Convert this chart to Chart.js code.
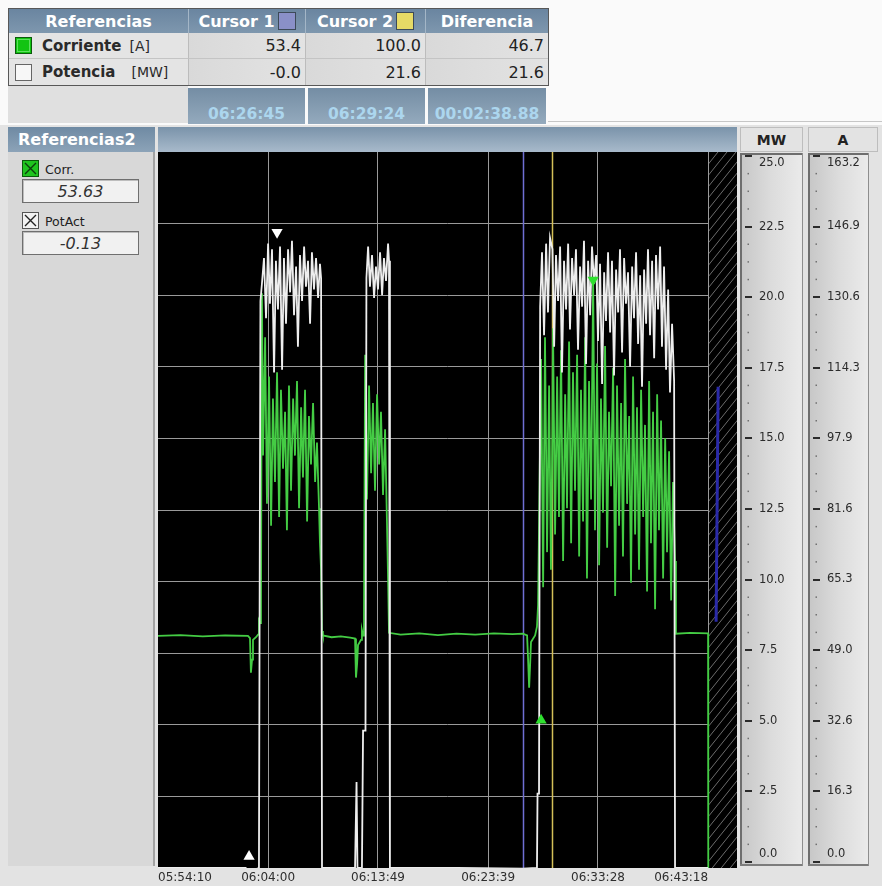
<!DOCTYPE html>
<html lang="es">
<head>
<meta charset="utf-8">
<title>Tendencia Corriente / Potencia</title>
<script src="https://cdn.jsdelivr.net/npm/chart.js@4.4.1/dist/chart.umd.min.js"></script>
<style>
  html, body { margin: 0; padding: 0; }
  body { width: 882px; height: 886px; position: relative; overflow: hidden;
         background: #e3e3e3; font-family: "DejaVu Sans", sans-serif; }
  .abs { position: absolute; box-sizing: border-box; }
  .hd { background: linear-gradient(#6a85a0, #7e97ae); color: #fff; font-weight: bold; font-size: 16px;
        display: flex; align-items: center; justify-content: center; border-left: 1px solid #a4b6c7; white-space: nowrap; }
  .lab { background: #e4e4e4; display: flex; align-items: center; color: #2a2a2a; white-space: nowrap; }
  .cel { background: linear-gradient(to right, #d9d9d9, #e3e3e3); font-size: 16px; color: #222; display: flex; align-items: center;
         justify-content: flex-end; padding-right: 4px; border-left: 1px solid #bcbcbc; }
  .tm { background: linear-gradient(#748da4, #94aabd); color: #acd6ee; font-weight: bold; font-size: 15.5px;
        display: flex; align-items: flex-end; justify-content: center; padding-bottom: 1px; }
  .sw { display: inline-block; width: 18px; height: 18px; border: 1px solid #3d4a58; margin-left: 3px; box-sizing: border-box; }
  .chk { width: 17px; height: 17px; }
  .caja { background: #f1f1f1; border: 1px solid #6f6f6f; box-shadow: inset 1px 1px 0 #bdbdbd;
          font-style: italic; font-size: 16px; color: #333; display: flex; align-items: center; justify-content: center; }
</style>
</head>
<body>
<!-- franja superior clara -->
<div class="abs" style="left:0;top:0;width:882px;height:125px;background:#fafafa"></div>
<div class="abs" style="left:548px;top:121px;width:334px;height:1px;background:#c6c6c6"></div>

<!-- tabla de referencias de cursores -->
<div class="abs" style="left:8px;top:8px;width:541px;height:78px;border:1px solid #585858;background:#e2e2e2"></div>
<div class="abs hd" style="left:9px;top:9px;width:179px;height:24px;border-left:none">Referencias</div>
<div class="abs hd" style="left:188px;top:9px;width:117px;height:24px">Cursor 1<span class="sw" style="background:#8a90c8"></span></div>
<div class="abs hd" style="left:305px;top:9px;width:120px;height:24px">Cursor 2<span class="sw" style="background:#e6da66"></span></div>
<div class="abs hd" style="left:425px;top:9px;width:123px;height:24px">Diferencia</div>

<div class="abs lab" style="left:9px;top:33px;width:179px;height:26px;border-bottom:1px solid #c4c4c4">
  <svg class="chk" style="margin-left:6px" viewBox="0 0 17 17"><rect x="0.5" y="0.5" width="16" height="16" fill="#12c412" stroke="#0b5a0b"/><rect x="2.5" y="2.5" width="12" height="12" fill="none" stroke="#5fe05f"/></svg>
  <b style="font-size:15px;margin-left:10px">Corriente</b><span style="font-size:14px;margin-left:8px">[A]</span>
</div>
<div class="abs cel" style="left:188px;top:33px;width:117px;height:26px;border-bottom:1px solid #c4c4c4">53.4</div>
<div class="abs cel" style="left:305px;top:33px;width:120px;height:26px;border-bottom:1px solid #c4c4c4">100.0</div>
<div class="abs cel" style="left:425px;top:33px;width:123px;height:26px;border-bottom:1px solid #c4c4c4">46.7</div>

<div class="abs lab" style="left:9px;top:59px;width:179px;height:26px">
  <svg class="chk" style="margin-left:6px" viewBox="0 0 17 17"><rect x="0.5" y="0.5" width="16" height="16" fill="#f7f7f7" stroke="#666"/></svg>
  <b style="font-size:15px;margin-left:10px">Potencia</b><span style="font-size:14px;margin-left:16px">[MW]</span>
</div>
<div class="abs cel" style="left:188px;top:59px;width:117px;height:26px">-0.0</div>
<div class="abs cel" style="left:305px;top:59px;width:120px;height:26px">21.6</div>
<div class="abs cel" style="left:425px;top:59px;width:123px;height:26px">21.6</div>

<div class="abs" style="left:8px;top:86px;width:180px;height:37px;background:#e0e0e0"></div>
<div class="abs tm" style="left:188px;top:88px;width:117px;height:36px">06:26:45</div>
<div class="abs tm" style="left:308px;top:88px;width:117px;height:36px">06:29:24</div>
<div class="abs tm" style="left:428px;top:88px;width:118px;height:36px">00:02:38.88</div>

<!-- segunda barra de cabecera -->
<div class="abs hd" style="left:8px;top:127px;width:147px;height:25px;justify-content:flex-start;padding-left:10px;border-left:none;background:linear-gradient(#6f8aa3,#8ca3b8)">Referencias2</div>
<div class="abs" style="left:158px;top:127px;width:579px;height:25px;background:linear-gradient(#7a93aa,#a8bacb)"></div>
<div class="abs" style="left:740px;top:127px;width:63px;height:25px;background:#e3e3e3;border:1px solid #bdbdbd;font-weight:bold;font-size:14px;color:#222;display:flex;align-items:center;justify-content:center">MW</div>
<div class="abs" style="left:808px;top:127px;width:70px;height:25px;background:#e3e3e3;border:1px solid #bdbdbd;font-weight:bold;font-size:14px;color:#222;display:flex;align-items:center;justify-content:center">A</div>

<!-- panel de variables -->
<div class="abs" style="left:8px;top:152px;width:147px;height:714px;background:#d8d8d8;border-right:2px solid #a2a2a2"></div>
<svg class="abs chk" style="left:22px;top:160px" viewBox="0 0 17 17"><rect x="0.5" y="0.5" width="16" height="16" fill="#1fc41f" stroke="#0b5a0b"/><path d="M3 3 L14 14 M14 3 L3 14" stroke="#0d3d0d" stroke-width="1.4"/></svg>
<div class="abs" style="left:45px;top:162px;font-size:12.5px;color:#222">Corr.</div>
<div class="abs caja" style="left:22px;top:179px;width:117px;height:24px">53.63</div>
<svg class="abs chk" style="left:22px;top:212px" viewBox="0 0 17 17"><rect x="0.5" y="0.5" width="16" height="16" fill="#f2f2f2" stroke="#555"/><path d="M3 3 L14 14 M14 3 L3 14" stroke="#222" stroke-width="1.4"/></svg>
<div class="abs" style="left:45px;top:214px;font-size:12.5px;color:#222">PotAct</div>
<div class="abs caja" style="left:22px;top:231px;width:117px;height:24px">-0.13</div>

<canvas id="grafico" class="abs" width="727" height="734" style="left:155px;top:152px"></canvas>

<script>
// Ventana de tiempo visible y marcas del eje horizontal
const inicio = '05:54:10';
const fin = '06:45:53';
const finDatos = '06:43:18';            // a partir de aquí, zona rayada sin registro
const etiquetasTiempo = ['05:54:10', '06:04:00', '06:13:49', '06:23:39', '06:33:28', '06:43:18'];
const cursores = ['06:26:45', '06:29:24'];
const coloresCursor = ['#6f6fd4', '#d4c058'];

// Escalas verticales
const etiquetasMW = ['0.0', '2.5', '5.0', '7.5', '10.0', '12.5', '15.0', '17.5', '20.0', '22.5', '25.0'];
const etiquetasA = ['0.0', '16.3', '32.6', '49.0', '65.3', '81.6', '97.9', '114.3', '130.6', '146.9', '163.2'];

// Potencia activa [MW] (segundos desde el inicio de la ventana)
const potSeg = [0, 470, 488, 541, 549,
  557, 568, 579, 590, 600, 611, 622, 632, 643, 654, 665, 675, 686, 697, 708, 718, 729, 740, 750, 761,
  772, 783, 793, 804, 815, 825, 836, 847, 858, 868, 874, 879,
  1056, 1061, 1064, 1069, 1093, 1099, 1112, 1117, 1126, 1136, 1147, 1158, 1168, 1179, 1190, 1201, 1211, 1222, 1233, 1238, 1243,
  1600, 1955, 2031, 2034, 2042,
  2048, 2058, 2069, 2080, 2090, 2101, 2114, 2123, 2133, 2144, 2155, 2165, 2176, 2187, 2198, 2208, 2219, 2230, 2240, 2251,
  2262, 2273, 2283, 2294, 2305, 2316, 2326, 2337, 2348, 2358, 2369, 2380, 2391, 2401, 2412, 2423, 2433, 2444, 2455, 2466,
  2476, 2487, 2498, 2508, 2519, 2530, 2541, 2551, 2562, 2573, 2584, 2594, 2605, 2616, 2626, 2637, 2648, 2659, 2669, 2680,
  2691, 2701, 2712, 2723, 2734, 2744, 2755, 2766, 2771, 2948];
const potMW = [0.0, 0.0, -0.13, 0.0, 19.8,
  20.4, 21.3, 19.2, 21.8, 19.7, 21.6, 17.3, 21.2, 19.5, 21.7, 17.4, 21.3, 19.0, 21.6, 20.1, 21.9, 19.3, 21.0, 18.2, 21.4,
  19.8, 21.7, 20.3, 21.2, 19.0, 21.5, 20.2, 21.3, 19.9, 21.1, 20.6, 0.0,
  0.0, 0.0, 3.0, 0.0, 0.0, 4.8, 4.8, 20.6, 21.7, 20.3, 21.4, 19.9, 21.0, 20.2, 21.5, 20.0, 21.3, 20.5, 21.8, 21.2, 0.0,
  0.0, -0.02, 0.0, 2.6, 2.6,
  19.6, 21.5, 18.6, 21.8, 19.4, 22.0, 21.6, 18.2, 21.4, 19.8, 21.7, 17.3, 21.2, 19.5, 21.8, 18.8, 21.3, 20.0, 21.6, 18.1,
  21.0, 19.6, 21.9, 17.6, 21.2, 19.3, 21.7, 20.4, 21.4, 18.4, 21.1, 16.9, 20.8, 19.1, 21.5, 18.7, 21.2, 17.2, 20.9, 19.4,
  21.6, 18.0, 21.3, 19.7, 20.8, 17.5, 21.0, 19.2, 21.5, 18.3, 20.7, 16.8, 20.9, 19.0, 21.6, 18.6, 21.2, 17.8, 21.4, 19.5,
  21.7, 18.2, 21.0, 17.4, 20.2, 16.6, 19.0, 17.0, 0.0, 0.0];

// Corriente [A]
const corrSeg = [0, 120, 240, 360, 482, 493, 498, 504, 509, 525, 536, 541, 547, 552,
  557, 563, 574, 584, 595, 606, 616, 627, 638, 649, 659, 670, 681, 691, 702, 713, 724, 734, 745, 756, 767, 777,
  788, 799, 809, 820, 831, 842, 852, 863, 868, 874, 879,
  884, 930, 980, 1030, 1056, 1061, 1067, 1072, 1088, 1093, 1099, 1104,
  1110, 1120, 1131, 1142, 1152, 1163, 1174, 1185, 1195, 1206, 1217, 1227, 1233, 1238,
  1300, 1400, 1500, 1600, 1700, 1800, 1900, 1955, 1978, 1983, 1989, 1994, 1999, 2021, 2031, 2037,
  2053, 2064, 2074, 2085, 2096, 2106, 2114, 2117, 2128, 2139, 2149, 2160, 2171, 2182, 2192, 2203, 2214, 2224, 2235, 2246,
  2257, 2267, 2278, 2289, 2299, 2310, 2321, 2332, 2342, 2353, 2364, 2374, 2385, 2396, 2407, 2417, 2428, 2439, 2450, 2460,
  2471, 2482, 2492, 2503, 2514, 2525, 2535, 2546, 2557, 2567, 2578, 2589, 2600, 2610, 2621, 2632, 2642, 2653, 2664, 2675,
  2685, 2696, 2707, 2718, 2728, 2739, 2750, 2760, 2771, 2776, 2852, 2948, 2949];
const corrA = [52.9, 53.1, 52.8, 53.0, 52.9, 52.4, 44.5, 47.5, 52.0, 52.6, 53.2, 56.4, 55.8, 60.0,
  131, 94, 121, 83, 112, 78, 107, 88, 113, 80, 109, 91, 104, 77, 110, 86, 107, 94, 111, 82, 105, 89,
  109, 79, 103, 92, 106, 88, 97, 82, 74, 68, 54,
  53.0, 52.6, 52.8, 52.5, 52.3, 43.4, 46.5, 50.8, 52.0, 54.2, 53.0, 58.0,
  117, 84, 110, 90, 106, 86, 108, 92, 104, 85, 100, 79, 66, 53.6,
  53.2, 53.5, 53.1, 53.4, 53.2, 53.5, 53.3, 53.4, 53.0, 48.0, 41.1, 46.0, 51.5, 53.0, 55.0, 60.0,
  116, 64, 121, 72, 110, 68, 100.0, 123, 76, 112, 80, 118, 70, 108, 82, 120, 74, 113, 86, 117,
  71, 109, 79, 121, 66, 111, 84, 134, 77, 115, 69, 107, 81, 119, 73, 104, 87, 114, 62, 110,
  78, 106, 71, 116, 83, 103, 65, 112, 76, 105, 68, 109, 80, 101, 63, 111, 74, 104, 59, 108,
  77, 102, 66, 98, 72, 95, 61, 88, 70, 53.4, 53.6, 53.5, 0.0];

// Traza residual dentro de la zona rayada
const trazaSeg = [2991, 3002];
const trazaMW = [8.6, 16.8];

// Marcas de máximo (▼) y mínimo (▲)
const marcasPotSeg = [638, 488];
const marcasPotMW = [22.2, 0.4];
const marcasCorrSeg = [2332, 2053];
const marcasCorrA = [134.0, 33.7];

const hms = s => { const [h, m, x] = s.split(':').map(Number); return h * 3600 + m * 60 + x; };
const t0 = hms(inicio);
const aHora = sec => {
  sec = Math.round(sec);
  return [Math.floor(sec / 3600), Math.floor(sec % 3600 / 60), sec % 60].map(v => String(v).padStart(2, '0')).join(':');
};
const pares = (xs, ys) => xs.map((x, i) => ({ x, y: ys[i] }));

const GRID = '#9a9a9a';
const FUENTE = '"DejaVu Sans", sans-serif';

// Fondo negro, reglas laterales MW / A, zona rayada y cursores
const panelesPlugin = {
  id: 'paneles',
  beforeDraw(chart) {
    const { ctx, chartArea: ca, scales } = chart;
    ctx.save();
    ctx.fillStyle = '#000';
    ctx.fillRect(ca.left, ca.top, ca.right - ca.left, ca.bottom - ca.top);

    const reglas = [
      { s: scales.mw, izq: 3, ancho: 63, textos: etiquetasMW },
      { s: scales.a, izq: 1, ancho: 61, textos: etiquetasA }
    ];
    const pTop = ca.top + 1, pBot = ca.bottom - 2;
    const iTop = ca.top + 4, iBot = ca.bottom - 6;
    const enPanel = y => iTop + (y - ca.top) * (iBot - iTop) / (ca.bottom - ca.top);

    reglas.forEach(({ s, izq, ancho, textos }) => {
      const x0 = s.left + izq;
      const g = ctx.createLinearGradient(x0, 0, x0 + ancho, 0);
      g.addColorStop(0, '#c6c6c6');
      g.addColorStop(0.5, '#dcdcdc');
      g.addColorStop(1, '#ebebeb');
      ctx.fillStyle = g;
      ctx.fillRect(x0, pTop, ancho, pBot - pTop);
      ctx.fillStyle = '#6e6e6e';
      ctx.fillRect(x0, pTop, 2, pBot - pTop);
      ctx.fillRect(x0, pTop, ancho, 2);
      ctx.fillStyle = '#7c7c7c';
      ctx.fillRect(x0, pBot - 2, ancho, 2);
      ctx.fillStyle = '#8e8e8e';
      ctx.fillRect(x0 + ancho - 1, pTop, 1, pBot - pTop);

      const ticks = s.ticks;
      ctx.font = '11.5px ' + FUENTE;
      ctx.textAlign = 'left';
      ctx.textBaseline = 'middle';
      ticks.forEach((t, i) => {
        const y = enPanel(s.getPixelForValue(t.value));
        ctx.fillStyle = '#2b2b2b';
        ctx.fillRect(x0 + 5, Math.round(y) - 1, 7, 2);
        const yl = Math.min(Math.max(y, pTop + 10), pBot - 12);
        ctx.fillText(textos[i], x0 + 19, yl);
        if (i < ticks.length - 1) {
          const sig = ticks[i + 1].value;
          ctx.fillStyle = '#707070';
          for (let k = 1; k <= 3; k++) {
            const yy = enPanel(s.getPixelForValue(t.value + (sig - t.value) * k / 4));
            ctx.fillRect(x0 + 7.5, yy - 0.75, 1.5, 1.5);
          }
        }
      });
    });
    ctx.restore();
  },
  beforeDatasetsDraw(chart) {
    const { ctx, chartArea: ca, scales } = chart;
    const xFin = Math.round(scales.x.getPixelForValue(hms(finDatos) - t0)) + 1;
    const alto = ca.bottom - ca.top;
    ctx.save();
    ctx.beginPath();
    ctx.rect(xFin, ca.top, ca.right - xFin, alto);
    ctx.clip();
    ctx.fillStyle = '#000';
    ctx.fillRect(xFin, ca.top, ca.right - xFin, alto);
    ctx.strokeStyle = '#6c6c6c';
    ctx.lineWidth = 1;
    ctx.beginPath();
    const pend = 1.25;
    for (let x = xFin - alto / pend; x < ca.right + 10; x += 9) {
      ctx.moveTo(x, ca.bottom);
      ctx.lineTo(x + alto / pend, ca.top);
    }
    ctx.stroke();
    ctx.restore();

    ctx.save();
    cursores.forEach((c, i) => {
      const x = Math.round(scales.x.getPixelForValue(hms(c) - t0)) + 0.5;
      ctx.strokeStyle = coloresCursor[i];
      ctx.lineWidth = 1.5;
      ctx.beginPath();
      ctx.moveTo(x, ca.top);
      ctx.lineTo(x, ca.bottom);
      ctx.stroke();
    });
    ctx.restore();
  }
};

new Chart(document.getElementById('grafico'), {
  type: 'line',
  data: {
    datasets: [
      { label: 'Marcas Corr.', type: 'scatter', yAxisID: 'a', data: pares(marcasCorrSeg, marcasCorrA),
        pointStyle: 'triangle', rotation: [180, 0], pointRadius: 6.5, backgroundColor: '#2fe02f', borderColor: '#2fe02f', borderWidth: 0, order: 0 },
      { label: 'Marcas PotAct', type: 'scatter', yAxisID: 'mw', data: pares(marcasPotSeg, marcasPotMW),
        pointStyle: 'triangle', rotation: [180, 0], pointRadius: 6.5, backgroundColor: '#ffffff', borderColor: '#ffffff', borderWidth: 0, order: 0 },
      { label: 'Potencia [MW]', yAxisID: 'mw', data: pares(potSeg, potMW),
        borderColor: '#eeeeee', borderWidth: 1.8, pointRadius: 0, tension: 0, order: 1 },
      { label: 'Corriente [A]', yAxisID: 'a', data: pares(corrSeg, corrA),
        borderColor: '#44cc44', borderWidth: 1.8, pointRadius: 0, tension: 0, order: 2 },
      { label: 'Traza', yAxisID: 'mw', data: pares(trazaSeg, trazaMW),
        borderColor: '#2a2aa8', borderWidth: 3, pointRadius: 0, tension: 0, order: 3 }
    ]
  },
  options: {
    responsive: false,
    devicePixelRatio: 1,
    animation: false,
    events: [],
    layout: { padding: 0, autoPadding: false },
    plugins: { legend: { display: false }, tooltip: { enabled: false } },
    scales: {
      x: {
        type: 'linear', min: 0, max: hms(fin) - t0,
        afterBuildTicks: s => { s.ticks = etiquetasTiempo.map(l => ({ value: hms(l) - t0 })); },
        afterFit: s => { s.height = 18; },
        ticks: { align: 'inner', autoSkip: false, maxRotation: 0, padding: 3, color: '#2e2e2e',
                 font: { family: FUENTE, size: 12 }, callback: v => aHora(t0 + v) },
        grid: { color: c => (c.index === 0 ? 'rgba(0,0,0,0)' : GRID), lineWidth: 1, drawTicks: false },
        border: { display: false }
      },
      mw: {
        type: 'linear', position: 'right', min: 0, max: 25,
        afterBuildTicks: s => { s.ticks = etiquetasMW.map(l => ({ value: parseFloat(l) })); },
        afterFit: s => { s.width = 70; },
        ticks: { display: false },
        grid: { color: c => (c.tick && (c.tick.value === 0 || c.tick.value === 25) ? 'rgba(0,0,0,0)' : GRID), drawTicks: false },
        border: { display: false }
      },
      a: {
        type: 'linear', position: 'right', min: 0, max: 163.2,
        afterBuildTicks: s => { s.ticks = etiquetasA.map(l => ({ value: parseFloat(l) })); },
        afterFit: s => { s.width = 75; },
        ticks: { display: false },
        grid: { display: false, drawTicks: false },
        border: { display: false }
      }
    }
  },
  plugins: [panelesPlugin]
});
</script>
</body>
</html>
